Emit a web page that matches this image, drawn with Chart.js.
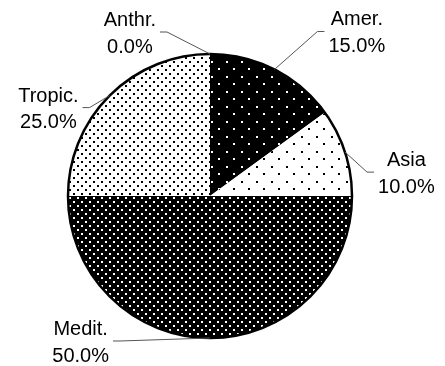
<!DOCTYPE html>
<html>
<head>
<meta charset="utf-8">
<script src="https://cdn.jsdelivr.net/npm/chart.js@4.4.0/dist/chart.umd.min.js"></script>
<style>
    body { margin: 0; background: #fff; }
</style>
</head>
<body>
<canvas id="pieChart" width="445" height="366"></canvas>
<script>
const regions = ['Amer.', 'Asia', 'Medit.', 'Tropic.', 'Anthr.'];
const shares = [15, 10, 50, 25, 0];

// small dotted tiles used as slice fills
function dotPattern(size, bg, fg, spots) {
    const tile = document.createElement('canvas');
    tile.width = size;
    tile.height = size;
    const c = tile.getContext('2d');
    c.fillStyle = bg;
    c.fillRect(0, 0, size, size);
    c.fillStyle = fg;
    spots.forEach(function (s) { c.fillRect(s[0], s[1], 2, 2); });
    return c.createPattern(tile, 'repeat');
}

const ctx = document.getElementById('pieChart').getContext('2d');
const fills = [
    dotPattern(15, '#000', '#fff', [[1, 1], [8, 8]]),   // Amer.
    dotPattern(15, '#fff', '#000', [[1, 1], [8, 8]]),   // Asia
    dotPattern(8, '#000', '#fff', [[1, 1], [5, 5]]),    // Medit.
    dotPattern(8, '#fff', '#000', [[1, 1], [5, 5]]),    // Tropic.
    '#fff'                                               // Anthr.
];

// where each leader line bends, relative to the slice's edge point
const leaderBends = [
    { dx: 43, dy: -38, side: 1 },
    { dx: 22, dy: 20, side: 1 },
    { dx: -90, dy: 3, side: -1 },
    { dx: -20, dy: 12, side: -1 },
    { dx: -43, dy: -22, side: -1 }
];

const pieLabels = {
    id: 'pieLabels',
    afterDraw: function (chart) {
        const c = chart.ctx;
        const arcs = chart.getDatasetMeta(0).data;
        c.save();

        // outer ring
        const a0 = arcs[0];
        c.beginPath();
        c.arc(a0.x, a0.y, a0.outerRadius, 0, Math.PI * 2);
        c.lineWidth = 2.5;
        c.strokeStyle = '#000';
        c.stroke();

        c.font = '20px "Liberation Sans", Arial, sans-serif';
        c.textAlign = 'center';
        c.textBaseline = 'alphabetic';
        arcs.forEach(function (arc, i) {
            const mid = (arc.startAngle + arc.endAngle) / 2;
            const ex = arc.x + Math.cos(mid) * arc.outerRadius;
            const ey = arc.y + Math.sin(mid) * arc.outerRadius;
            const b = leaderBends[i];
            const px = ex + b.dx, py = ey + b.dy;
            const qx = px + b.side * 7;

            c.beginPath();
            c.moveTo(ex, ey);
            c.lineTo(px, py);
            c.lineTo(qx, py);
            c.lineWidth = 1;
            c.strokeStyle = '#555';
            c.stroke();

            const line1 = regions[i];
            const line2 = shares[i].toFixed(1) + '%';
            const w = Math.max(c.measureText(line1).width, c.measureText(line2).width);
            const tx = qx + b.side * (4 + w / 2);
            c.fillStyle = '#000';
            c.fillText(line1, tx, py - 6);
            c.fillText(line2, tx, py + 20.5);
        });
        c.restore();
    }
};

new Chart(ctx, {
    type: 'pie',
    data: {
        labels: regions,
        datasets: [{
            data: shares,
            backgroundColor: fills,
            borderWidth: 0
        }]
    },
    options: {
        responsive: false,
        animation: false,
        layout: {
            padding: { left: 68, right: 93, top: 54, bottom: 28 }
        },
        plugins: {
            legend: { display: false },
            tooltip: { enabled: false }
        }
    },
    plugins: [pieLabels]
});
</script>
</body>
</html>
